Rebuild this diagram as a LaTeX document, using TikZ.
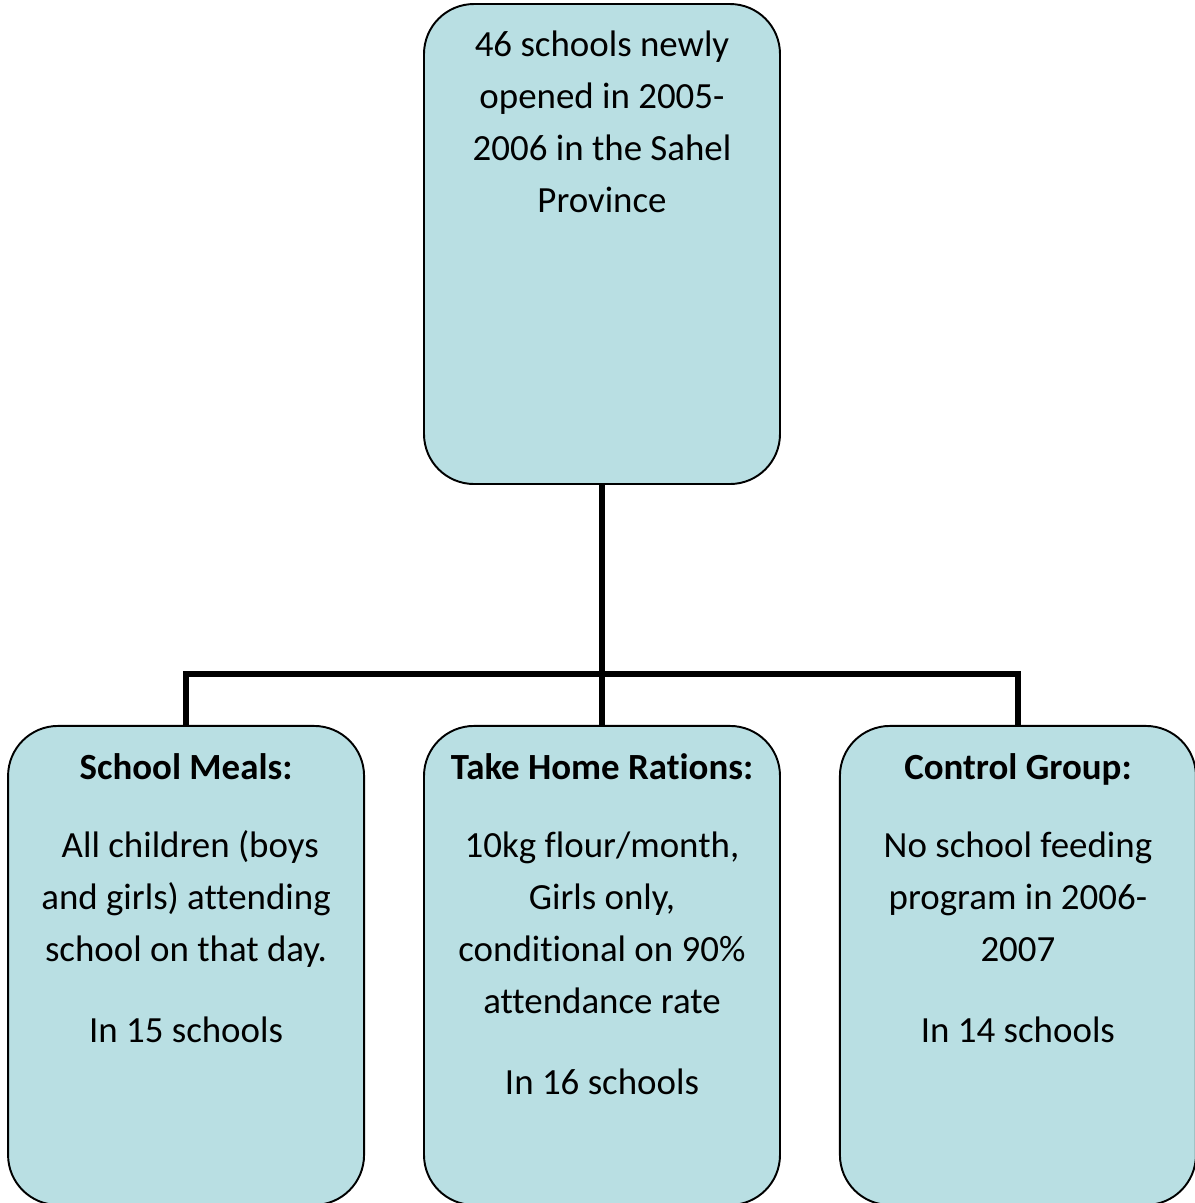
\documentclass[tikz,border=0pt]{standalone}
\usepackage{fontspec}
\setmainfont[Ligatures={NoCommon}]{Carlito}
\usepackage{tikz}
\usetikzlibrary{positioning}

\definecolor{boxblue}{RGB}{185,223,227}

\begin{document}
\begin{tikzpicture}[
        node distance=4.8cm and 1.16cm, % vertical and horizontal gaps
        box/.style={                    % rounded boxes
            draw=black,
            line width=1.1pt,
            fill=boxblue,
            rounded corners=1cm,
            minimum width=7.12cm,
            minimum height=9.58cm
        },
        boxtext/.style={                % text at the top of a box
            anchor=north,
            align=center,
            inner sep=0pt,
            font=\fontsize{21}{29.6}\selectfont
        },
        link/.style={                   % thick connectors
            draw=black,
            line width=3.3pt
        }
    ]

    % --- frame of the picture ---
    \useasboundingbox (0,0) rectangle (23.9,-24.06);

    % --- boxes ---

    % population (top)
    \node[box, minimum height=9.6cm] (pop) at (12.04,-4.88) {};

    % take home rations (middle)
    \node[box] (thr) [below=of pop] {};

    % school meals (left)
    \node[box] (meals) [left=of thr] {};

    % control group (right)
    \node[box] (ctrl) [right=of thr] {};

    % --- texts ---
    \node[boxtext, yshift=-0.54cm] (poptext) at (pop.north) {
        46 schools newly\\
        opened in 2005-\\
        2006 in the Sahel\\
        Province
    };

    \node[boxtext, yshift=-0.56cm] (mealstext) at (meals.north) {
        \textbf{School Meals:}\\[14.8pt]
        \ All children (boys\\
        and girls) attending\\
        school on that day.\\[16.5pt]
        In 15 schools
    };

    \node[boxtext, yshift=-0.56cm] (thrtext) at (thr.north) {
        \textbf{Take Home Rations:}\\[14.8pt]
        10kg flour/month,\\
        Girls only,\\
        conditional on 90\%\\
        attendance rate\\[16.5pt]
        In 16 schools
    };

    \node[boxtext, yshift=-0.56cm] (ctrltext) at (ctrl.north) {
        \textbf{Control Group:}\\[14.8pt]
        No school feeding\\
        program in 2006-\\
        2007\\[16.5pt]
        In 14 schools
    };

    % --- connectors ---
    \coordinate (bus) at ([yshift=1.02cm]thr.north);
    \draw[link] (pop.south) -- (thr.north);
    \draw[link] (meals.north) |- (bus) -| (ctrl.north);

\end{tikzpicture}
\end{document}
